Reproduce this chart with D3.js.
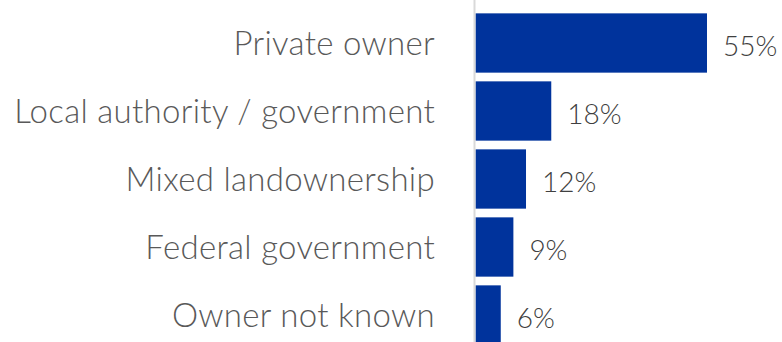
<!DOCTYPE html>
<html>
<head>
<meta charset="utf-8">
<script src="https://cdn.jsdelivr.net/npm/d3@7"></script>
<style>
  html, body { margin: 0; padding: 0; background: #fff; }
  svg text { font-family: Lato, "Open Sans", sans-serif; font-weight: 300; }
</style>
</head>
<body>
<svg id="chart" width="782" height="342"></svg>
<script>
// Land ownership shares, in percent
const categories = ["Private owner", "Local authority / government", "Mixed landownership", "Federal government", "Owner not known"];
const shares = [55, 18, 12, 9, 6];

const width = 782, height = 342;
const axisX = 475.5;

const svg = d3.select("#chart");

const x = d3.scaleLinear().domain([0, 55]).range([axisX, 707]);
const y = d3.scaleBand().domain(categories).range([9, 349]).paddingInner(0.128).paddingOuter(0.064);

const data = categories.map((c, i) => ({ cat: c, v: shares[i] }));

// bars
svg.append("g").selectAll("rect").data(data).join("rect")
  .attr("x", x(0))
  .attr("y", d => y(d.cat))
  .attr("width", d => x(d.v) - x(0))
  .attr("height", y.bandwidth())
  .attr("fill", "#00339c");

// baseline axis
svg.append("line")
  .attr("x1", axisX - 1).attr("x2", axisX - 1)
  .attr("y1", 0).attr("y2", height)
  .attr("stroke", "#d9d9d9").attr("stroke-width", 2);

// category labels
svg.append("g").selectAll("text").data(data).join("text")
  .attr("x", 435)
  .attr("y", d => y(d.cat) + y.bandwidth() / 2)
  .attr("dy", "0.35em")
  .attr("text-anchor", "end")
  .attr("font-size", 33)
  .attr("letter-spacing", 0.3)
  .attr("fill", "#595959")
  .text(d => d.cat);

// value labels
svg.append("g").selectAll("text").data(data).join("text")
  .attr("x", d => x(d.v) + 16)
  .attr("y", d => y(d.cat) + y.bandwidth() / 2)
  .attr("dy", "0.48em")
  .attr("font-size", 28)
  .attr("fill", "#404040")
  .text(d => d.v + "%");
</script>
</body>
</html>
